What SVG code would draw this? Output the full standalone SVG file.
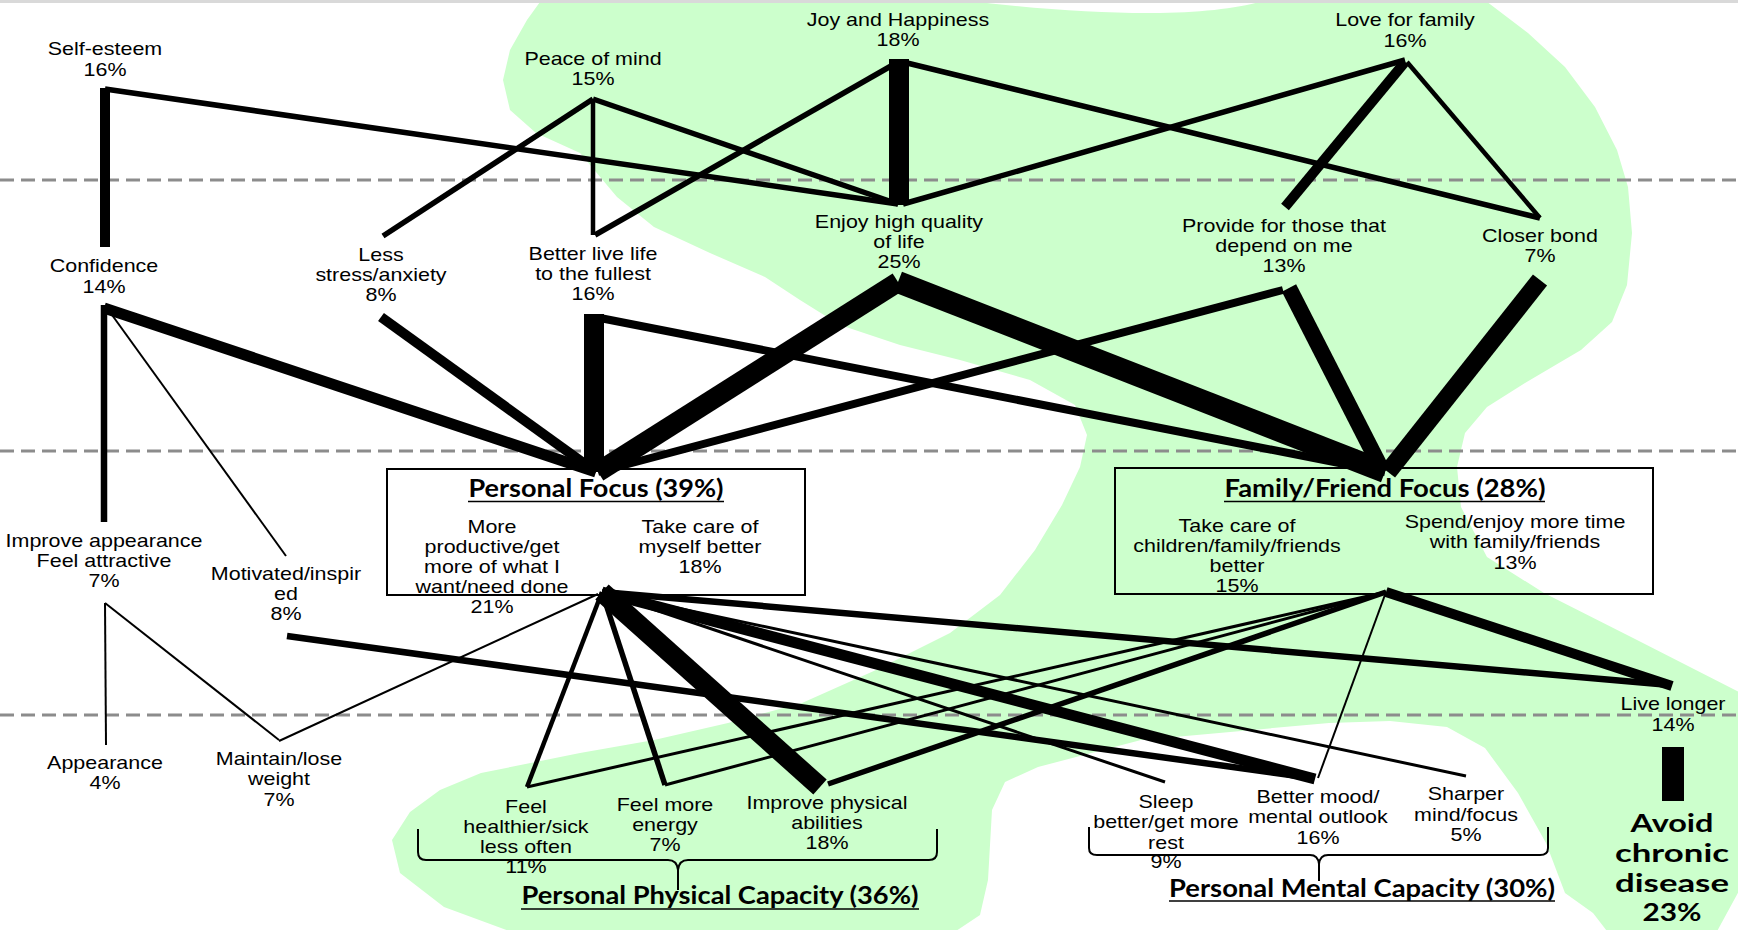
<svg xmlns="http://www.w3.org/2000/svg" width="1738" height="930" viewBox="0 0 1738 930">
<style>
.t{font-family:"Liberation Sans",Arial,sans-serif;font-size:19px;fill:#000;text-anchor:middle}
.h{font-family:Lato,"Liberation Sans",sans-serif;font-weight:bold;font-size:25px;fill:#000;text-anchor:middle}
.big{font-family:Lato,"Liberation Sans",sans-serif;font-weight:bold;font-size:25px;fill:#000;text-anchor:middle}
.c line{stroke:#000;stroke-linecap:butt}
.dash{stroke:#8c8c8c;stroke-width:3;stroke-dasharray:14 7}
.box{fill:none;stroke:#000;stroke-width:2}
.ul{stroke:#000;stroke-width:1.6}
.br{fill:none;stroke:#000;stroke-width:2}
.w2{stroke-width:2}.w3{stroke-width:3}.w4{stroke-width:4.5}.w5{stroke-width:5.5}.w6{stroke-width:6.5}.w8{stroke-width:8}.w10{stroke-width:10}.w11{stroke-width:11}.w16{stroke-width:16}.w18{stroke-width:18}.w20{stroke-width:20}.w22{stroke-width:22}
</style>
<rect x="0" y="0" width="1738" height="930" fill="#fff"/>
<path id="blob" fill="#ccffcc" d="M545,-5 L930,-5 C1010,8 1100,14 1160,13 C1215,12 1255,6 1280,-5 L1478,-5 L1528,33 L1565,67 L1595,107 L1617,150 L1628,187 L1632,233 L1627,285 L1612,322 L1581,350 L1525,383 L1487,407 L1465,433 L1457,467 L1461,507 L1487,557 L1544,593 L1637,640 L1745,695 L1745,880 L1715,935 L1610,935 L1593,913 L1565,893 L1546,843 L1518,793 L1485,748 L1447,727 L1390,721 L1329,723 L1141,740 L1038,767 L1005,782 L992,810 L988,880 L980,915 L950,935 L520,935 L444,907 L400,873 L392,840 L410,812 L440,790 L481,773 L580,753 L654,740 L728,723 L802,703 L876,670 L950,633 L1000,595 L1035,550 L1062,505 L1080,467 L1087,435 L1075,405 L1030,380 L960,360 L900,345 L840,325 L800,300 L765,277 L710,253 L654,227 L617,197 L580,153 L536,133 L510,110 L503,80 L510,50 L527,20 Z"/>
<rect x="0" y="0" width="1738" height="3" fill="#d9d9d9"/>
<g id="levels">
<line class="dash" x1="0" y1="180" x2="1738" y2="180"/>
<line class="dash" x1="0" y1="451" x2="1738" y2="451"/>
<line class="dash" x1="0" y1="715" x2="1738" y2="715"/>
</g>
<g id="connectors" class="c">
<line class="w10" x1="105" y1="88" x2="105" y2="247"/>
<line class="w5" x1="105" y1="89" x2="898" y2="204"/>
<line class="w5" x1="593" y1="99" x2="383" y2="236"/>
<line class="w4" x1="593" y1="99" x2="593" y2="235"/>
<line class="w5" x1="593" y1="99" x2="898" y2="204"/>
<line class="w5" x1="595" y1="235" x2="898" y2="62"/>
<line class="w20" x1="899" y1="59" x2="899" y2="205"/>
<line class="w5" x1="903" y1="62" x2="1540" y2="218"/>
<line class="w5" x1="903" y1="204" x2="1405" y2="60"/>
<line class="w10" x1="1405" y1="62" x2="1285" y2="207"/>
<line class="w4" x1="1407" y1="62" x2="1540" y2="218"/>
<line class="w11" x1="104" y1="308" x2="596" y2="472"/>
<line class="w6" x1="104" y1="305" x2="104" y2="522"/>
<line class="w2" x1="107" y1="308" x2="286" y2="556"/>
<line class="w10" x1="381" y1="317" x2="596" y2="472"/>
<line class="w20" x1="594" y1="314" x2="594" y2="472"/>
<line class="w8" x1="600" y1="318" x2="1385" y2="472"/>
<line class="w20" x1="898" y1="282" x2="598" y2="472"/>
<line class="w22" x1="898" y1="282" x2="1385" y2="472"/>
<line class="w8" x1="1283" y1="290" x2="598" y2="472"/>
<line class="w16" x1="1289" y1="288" x2="1383" y2="472"/>
<line class="w18" x1="1540" y1="280" x2="1388" y2="472"/>
<line class="w2" x1="105" y1="603" x2="106" y2="745"/>
<line class="w2" x1="105" y1="603" x2="279" y2="740"/>
<line class="w6" x1="287" y1="636" x2="1312" y2="778"/>
<line class="w2" x1="598" y1="594" x2="279" y2="741"/>
<line class="w4" x1="602" y1="592" x2="527" y2="787"/>
<line class="w5" x1="602" y1="592" x2="665" y2="785"/>
<line class="w20" x1="602" y1="592" x2="820" y2="787"/>
<line class="w6" x1="602" y1="592" x2="1670" y2="685"/>
<line class="w3" x1="602" y1="592" x2="1165" y2="782"/>
<line class="w11" x1="602" y1="592" x2="1315" y2="779"/>
<line class="w3" x1="602" y1="592" x2="1466" y2="776"/>
<line class="w3" x1="1386" y1="592" x2="527" y2="787"/>
<line class="w3" x1="1386" y1="592" x2="665" y2="785"/>
<line class="w5" x1="1386" y1="592" x2="828" y2="784"/>
<line class="w2" x1="1386" y1="592" x2="1318" y2="778"/>
<line class="w10" x1="1386" y1="592" x2="1672" y2="686"/>
<line class="w22" x1="1673" y1="747" x2="1673" y2="801"/>
</g>
<g id="self-esteem"><text class="t" transform="matrix(1.13 0 0 1 -13.65 0)" x="105" y="55">Self-esteem<tspan x="105" dy="21">16%</tspan></text></g>
<g id="confidence"><text class="t" transform="matrix(1.13 0 0 1 -13.52 0)" x="104" y="272">Confidence<tspan x="104" dy="21">14%</tspan></text></g>
<g id="less-stress"><text class="t" transform="matrix(1.13 0 0 1 -49.53 0)" x="381" y="261">Less<tspan x="381" dy="20">stress/anxiety</tspan><tspan x="381" dy="20">8%</tspan></text></g>
<g id="peace"><text class="t" transform="matrix(1.13 0 0 1 -77.09 0)" x="593" y="65">Peace of mind<tspan x="593" dy="20">15%</tspan></text></g>
<g id="better-live"><text class="t" transform="matrix(1.13 0 0 1 -77.09 0)" x="593" y="260">Better live life<tspan x="593" dy="20">to the fullest</tspan><tspan x="593" dy="20">16%</tspan></text></g>
<g id="joy"><text class="t" transform="matrix(1.13 0 0 1 -116.74 0)" x="898" y="26">Joy and Happiness<tspan x="898" dy="20">18%</tspan></text></g>
<g id="enjoy"><text class="t" transform="matrix(1.13 0 0 1 -116.87 0)" x="899" y="228">Enjoy high quality<tspan x="899" dy="20">of life</tspan><tspan x="899" dy="20">25%</tspan></text></g>
<g id="love"><text class="t" transform="matrix(1.13 0 0 1 -182.65 0)" x="1405" y="26">Love for family<tspan x="1405" dy="21">16%</tspan></text></g>
<g id="provide"><text class="t" transform="matrix(1.13 0 0 1 -166.92 0)" x="1284" y="232">Provide for those that<tspan x="1284" dy="20">depend on me</tspan><tspan x="1284" dy="20">13%</tspan></text></g>
<g id="closer"><text class="t" transform="matrix(1.13 0 0 1 -200.2 0)" x="1540" y="242">Closer bond<tspan x="1540" dy="20">7%</tspan></text></g>
<g id="improve-appearance"><text class="t" transform="matrix(1.13 0 0 1 -13.52 0)" x="104" y="547">Improve appearance<tspan x="104" dy="20">Feel attractive</tspan><tspan x="104" dy="20">7%</tspan></text></g>
<g id="motivated"><text class="t" transform="matrix(1.13 0 0 1 -37.18 0)" x="286" y="580">Motivated/inspir<tspan x="286" dy="20">ed</tspan><tspan x="286" dy="20">8%</tspan></text></g>
<g id="appearance"><text class="t" transform="matrix(1.13 0 0 1 -13.65 0)" x="105" y="769">Appearance<tspan x="105" dy="20">4%</tspan></text></g>
<g id="maintain"><text class="t" transform="matrix(1.13 0 0 1 -36.27 0)" x="279" y="765">Maintain/lose<tspan x="279" dy="20">weight</tspan><tspan x="279" dy="21">7%</tspan></text></g>
<g id="personal-focus">
<rect class="box" x="387" y="469" width="418" height="126"/>
<text class="h" x="596" y="497" textLength="255" lengthAdjust="spacingAndGlyphs">Personal Focus (39%)</text>
<line class="ul" x1="468" y1="501.5" x2="724" y2="501.5"/>
<text class="t" transform="matrix(1.13 0 0 1 -63.96 0)" x="492" y="533">More<tspan x="492" dy="20">productive/get</tspan><tspan x="492" dy="20">more of what I</tspan><tspan x="492" dy="20">want/need done</tspan><tspan x="492" dy="20">21%</tspan></text>
<text class="t" transform="matrix(1.13 0 0 1 -91 0)" x="700" y="533">Take care of<tspan x="700" dy="20">myself better</tspan><tspan x="700" dy="20">18%</tspan></text>
</g>
<g id="family-focus">
<rect class="box" x="1115" y="468" width="538" height="126"/>
<text class="h" x="1385" y="497" textLength="321" lengthAdjust="spacingAndGlyphs">Family/Friend Focus (28%)</text>
<line class="ul" x1="1224" y1="501.5" x2="1545" y2="501.5"/>
<text class="t" transform="matrix(1.13 0 0 1 -160.81 0)" x="1237" y="532">Take care of<tspan x="1237" dy="20">children/family/friends</tspan><tspan x="1237" dy="20">better</tspan><tspan x="1237" dy="20">15%</tspan></text>
<text class="t" transform="matrix(1.13 0 0 1 -196.95 0)" x="1515" y="528">Spend/enjoy more time<tspan x="1515" dy="20">with family/friends</tspan><tspan x="1515" dy="21">13%</tspan></text>
</g>
<g id="feel-healthier"><text class="t" transform="matrix(1.13 0 0 1 -68.38 0)" x="526" y="813">Feel<tspan x="526" dy="20">healthier/sick</tspan><tspan x="526" dy="20">less often</tspan><tspan x="526" dy="20">11%</tspan></text></g>
<g id="feel-energy"><text class="t" transform="matrix(1.13 0 0 1 -86.45 0)" x="665" y="811">Feel more<tspan x="665" dy="20">energy</tspan><tspan x="665" dy="20">7%</tspan></text></g>
<g id="improve-physical"><text class="t" transform="matrix(1.13 0 0 1 -107.51 0)" x="827" y="809">Improve physical<tspan x="827" dy="20">abilities</tspan><tspan x="827" dy="20">18%</tspan></text></g>
<g id="sleep"><text class="t" transform="matrix(1.13 0 0 1 -151.58 0)" x="1166" y="808">Sleep<tspan x="1166" dy="20">better/get more</tspan><tspan x="1166" dy="21">rest</tspan><tspan x="1166" dy="19">9%</tspan></text></g>
<g id="better-mood"><text class="t" transform="matrix(1.13 0 0 1 -171.34 0)" x="1318" y="803">Better mood/<tspan x="1318" dy="20">mental outlook</tspan><tspan x="1318" dy="21">16%</tspan></text></g>
<g id="sharper"><text class="t" transform="matrix(1.13 0 0 1 -190.58 0)" x="1466" y="800">Sharper<tspan x="1466" dy="21">mind/focus</tspan><tspan x="1466" dy="20">5%</tspan></text></g>
<g id="live-longer"><text class="t" transform="matrix(1.13 0 0 1 -217.49 0)" x="1673" y="710">Live longer<tspan x="1673" dy="21">14%</tspan></text></g>
<g id="avoid">
<text class="big" x="1672" y="832" textLength="83" lengthAdjust="spacingAndGlyphs">Avoid</text>
<text class="big" x="1672" y="862" textLength="114" lengthAdjust="spacingAndGlyphs">chronic</text>
<text class="big" x="1672" y="892" textLength="114" lengthAdjust="spacingAndGlyphs">disease</text>
<text class="big" x="1672" y="921" textLength="59" lengthAdjust="spacingAndGlyphs">23%</text>
</g>
<g id="physical-capacity">
<path class="br" d="M418,829 L418,852 Q418,860 426,860 L668,860 Q677,860 678,870 L678,890 M678,870 Q679,860 688,860 L929,860 Q937,860 937,852 L937,829"/>
<text class="h" x="720" y="904" textLength="397" lengthAdjust="spacingAndGlyphs">Personal Physical Capacity (36%)</text>
<line class="ul" x1="521" y1="909" x2="919" y2="909"/>
</g>
<g id="mental-capacity">
<path class="br" d="M1089,827 L1089,848 Q1089,855 1097,855 L1310,855 Q1318,855 1319,864 L1319,881 M1319,864 Q1320,855 1328,855 L1540,855 Q1548,855 1548,848 L1548,827"/>
<text class="h" x="1362" y="897" textLength="386" lengthAdjust="spacingAndGlyphs">Personal Mental Capacity (30%)</text>
<line class="ul" x1="1169" y1="901" x2="1555" y2="901"/>
</g>
</svg>
